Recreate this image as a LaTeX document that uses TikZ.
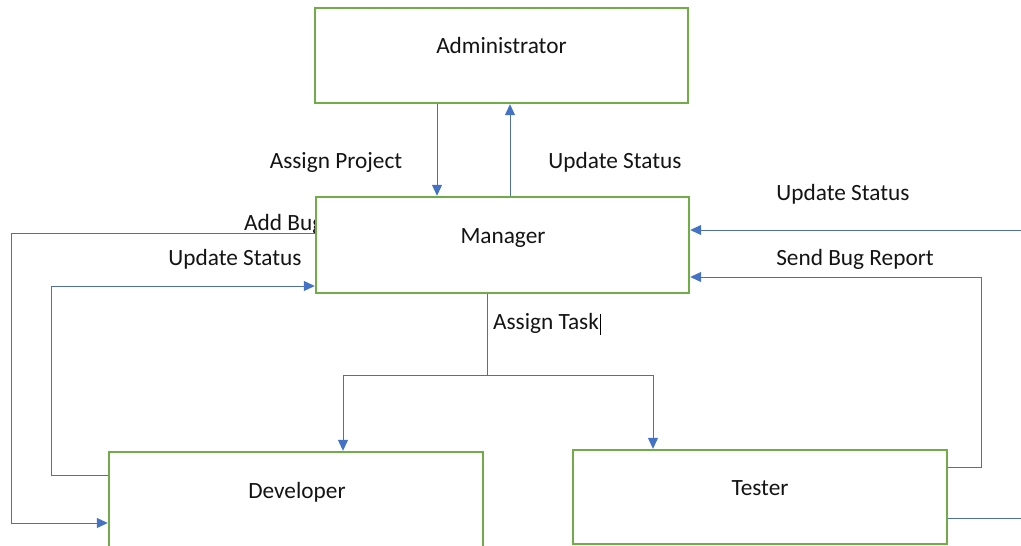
\documentclass[tikz,border=0pt]{standalone}
\usepackage{fontspec}
\setmainfont{Carlito}
\usetikzlibrary{arrows.meta,calc}
\definecolor{boxgreen}{RGB}{112,173,71}
\definecolor{linkblue}{RGB}{80,110,172}
\definecolor{tipblue}{RGB}{68,114,196}
\definecolor{txtgray}{RGB}{20,20,20}
\tikzset{
  box/.style={draw=boxgreen,line width=2.4pt,fill=white,rectangle,inner sep=0pt},
  lbl/.style={font=\fontsize{23.3}{27}\selectfont,text=txtgray,inner sep=0pt,anchor=base},
  link/.style={draw=linkblue,line width=1pt},
  arr/.style={link,-{Triangle[length=11pt,width=10pt,color=tipblue]}},
}
\begin{document}
\begin{tikzpicture}[x=1pt,y=-1pt]
\useasboundingbox (0,0) rectangle (1021,546);
% label partly hidden behind the Manager box
\node[lbl,anchor=base west] (addbug) at (244,230) {Add Bug};
% boxes
\node[box,minimum width=373pt,minimum height=95pt] (adm) at (501.5,55.5) {};
\node[box,minimum width=373pt,minimum height=96pt] (mgr) at (502.5,245) {};
\node[box,minimum width=374pt,minimum height=108pt] (dev) at (296,506) {};
\node[box,minimum width=374pt,minimum height=94pt] (tst) at (760,497) {};
% box texts
\node[lbl] (admt) at (501.5,53) {Administrator};
\node[lbl] (mgrt) at (503,243) {Manager};
\node[lbl] (devt) at (297,498) {Developer};
\node[lbl] (tstt) at (760,495) {Tester};
% helper coordinates
\coordinate (ap) at (437,0);
\coordinate (us) at (510,0);
\coordinate (rs) at (1021,230);
\coordinate (sbr) at (981,277);
\coordinate (sbl) at (0,467);
\coordinate (trl) at (0,518);
\coordinate (tre) at (1021,518);
\coordinate (abt) at (0,233);
\coordinate (abc) at (11,523);
\coordinate (usl) at (0,475);
\coordinate (usc) at (51,286);
\coordinate (at) at (487,375);
\coordinate (jl) at (343,375);
\coordinate (jr) at (653,375);
% Administrator <-> Manager
\draw[arr] (adm.south -| ap) -- (mgr.north -| ap);
\draw[arr] (mgr.north -| us) -- (adm.south -| us);
% right side
\draw[arr] (rs) -- (mgr.east |- rs);
\draw[arr] (tst.east |- sbl) -| (sbr) -- (mgr.east |- sbr);
\draw[link] (tst.east |- trl) -- (tre);
% left side
\draw[arr] (mgr.west |- abt) -| (abc) -- (dev.west |- abc);
\draw[arr] (dev.west |- usl) -| (usc) -- (mgr.west |- usc);
% Assign Task
\draw[link] (mgr.south -| at) -- (at);
\draw[link] (jl) -- (jr);
\draw[arr] (jl) -- (dev.north -| jl);
\draw[arr] (jr) -- (tst.north -| jr);
% labels
\node[lbl] (l1) at (336,168) {Assign Project};
\node[lbl] (l2) at (615,168) {Update Status};
\node[lbl] (l3) at (843,200) {Update Status};
\node[lbl] (l4) at (855,265) {Send Bug Report};
\node[lbl] (l5) at (235,265) {Update Status};
\node[lbl] (l6) at (546,329) {Assign Task};
\coordinate (cur1) at (600,314);
\coordinate (cur2) at (600,335);
\draw[black,line width=1pt] (cur1) -- (cur2);
\end{tikzpicture}
\end{document}
